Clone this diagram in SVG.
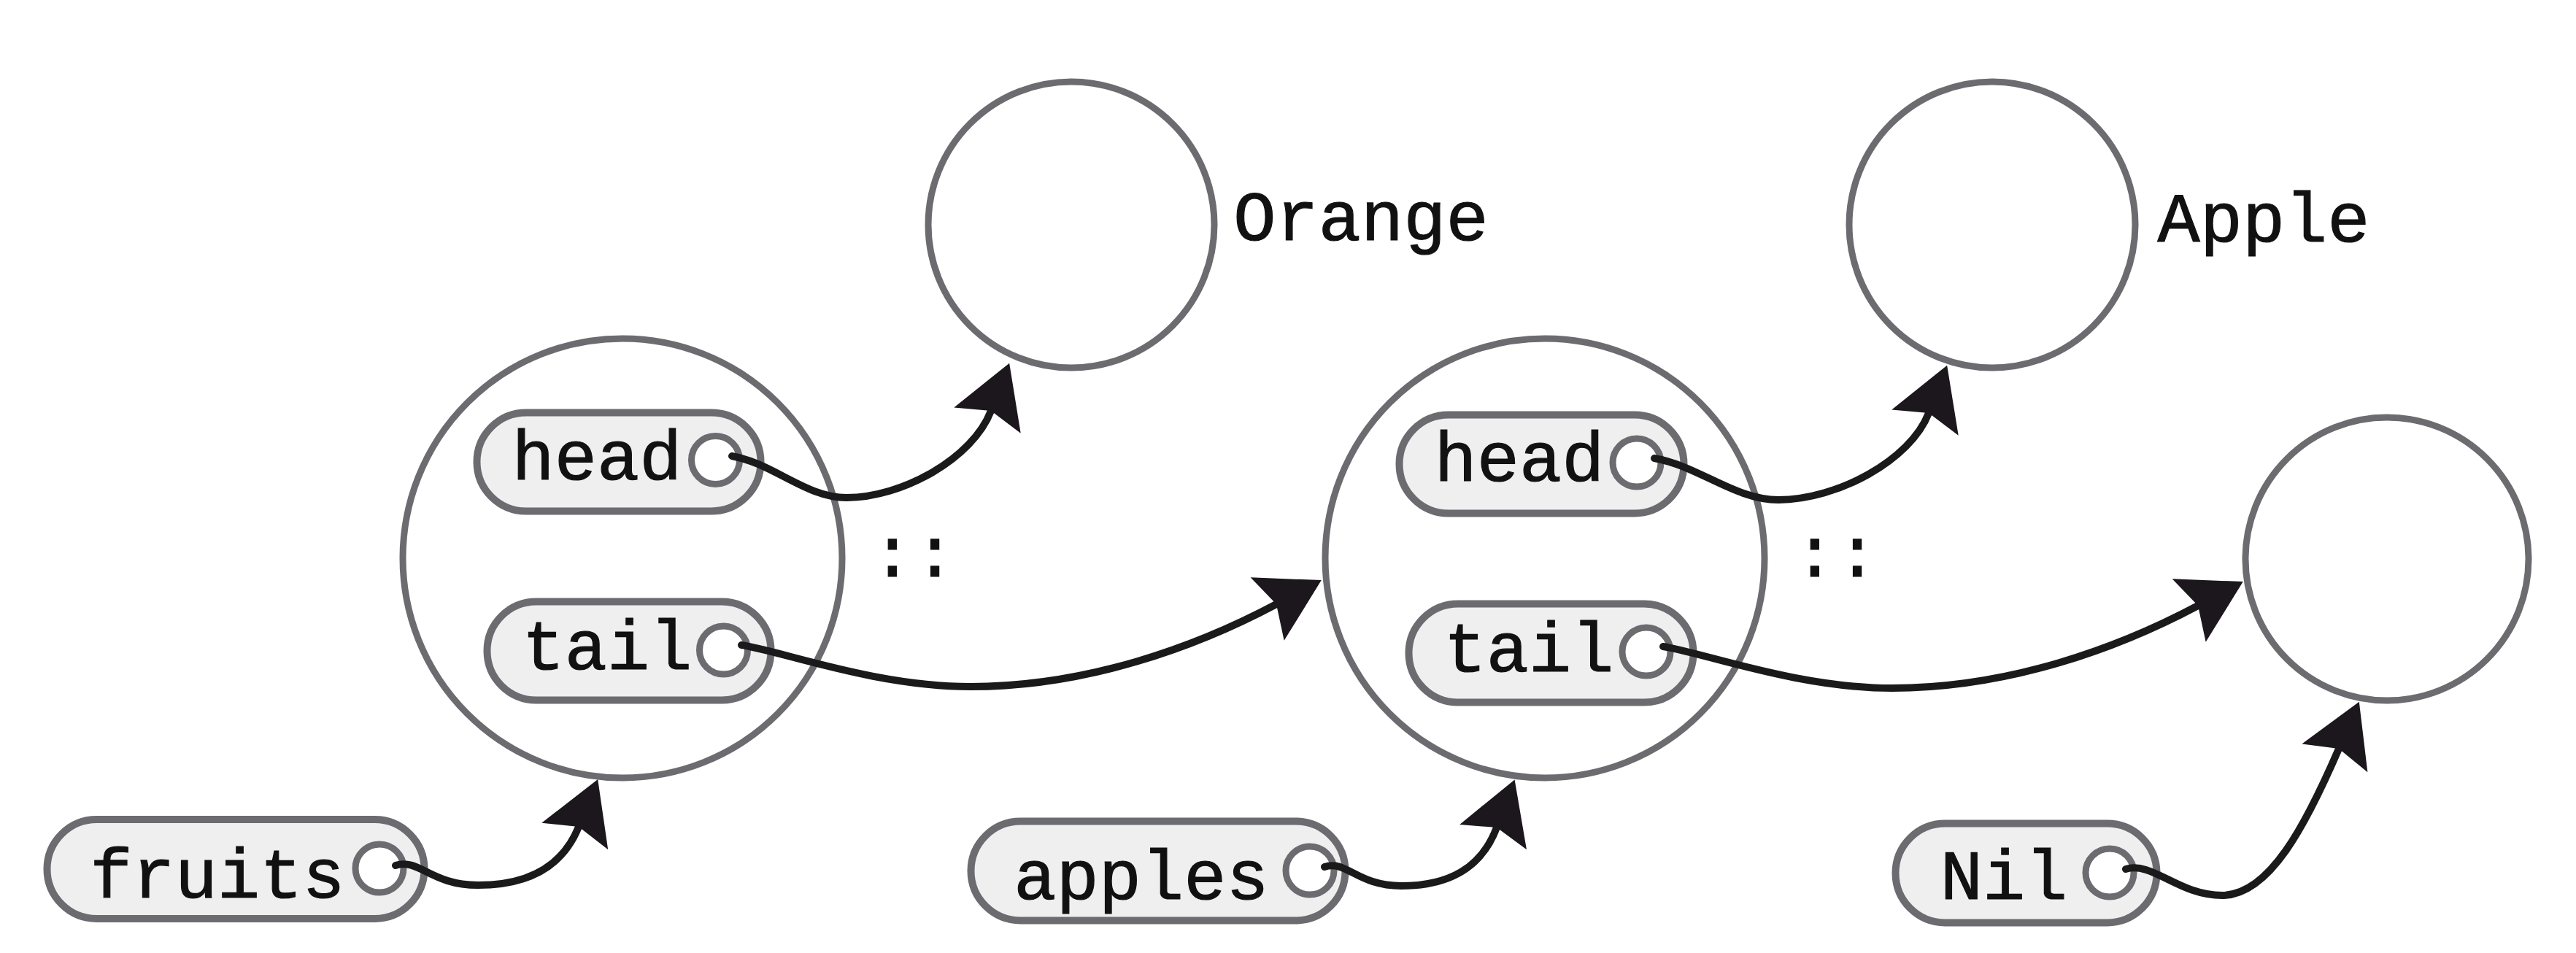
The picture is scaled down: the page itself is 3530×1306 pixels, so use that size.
<svg xmlns="http://www.w3.org/2000/svg" width="3530" height="1306" viewBox="0 0 3530 1306">
  <defs>
    <style>
      .big { fill: #ffffff; stroke: #6b6b70; stroke-width: 9; }
      .val { fill: #ffffff; stroke: #6b6b70; stroke-width: 9; }
      .pill { fill: #efefef; stroke: #6b6b70; stroke-width: 10; }
      .port { fill: #ffffff; stroke: #6b6b70; stroke-width: 9; }
      .lbl { font-family: "Liberation Mono", "DejaVu Sans Mono", monospace; font-size: 97px; fill: #111111; stroke: #111111; stroke-width: 1.2; }
      .mid { text-anchor: middle; }
      .conn { fill: none; stroke: #1a1a1a; stroke-width: 10; stroke-linecap: round; marker-end: url(#arr); }
    </style>
    <marker id="arr" markerUnits="userSpaceOnUse" viewBox="-20 -60 100 120" markerWidth="100" markerHeight="120" refX="0" refY="0" orient="auto" overflow="visible">
      <path d="M70,0 L-14,-49 L0,0 L-14,49 Z" fill="#1c171d"/>
    </marker>
  </defs>
  <rect width="3530" height="1306" fill="#ffffff"/>

  <g id="orange">
    <circle class="val" cx="1468" cy="308" r="196"/>
    <text class="lbl mid" x="1865" y="329">Orange</text>
  </g>
  <g id="apple">
    <circle class="val" cx="2730" cy="308" r="196"/>
    <text class="lbl mid" x="3102" y="331">Apple</text>
  </g>
  <g id="nilnode">
    <circle class="val" cx="3271" cy="766" r="194"/>
  </g>

  <g id="cons1">
    <circle class="big" cx="853" cy="765" r="301"/>
    <g id="cons1-head">
      <rect class="pill" x="653.5" y="565.5" width="389" height="135" rx="67.5"/>
      <text class="lbl mid" x="818" y="657">head</text>
      <circle class="port" cx="980.5" cy="630.5" r="33"/>
    </g>
    <g id="cons1-tail">
      <rect class="pill" x="667.5" y="824.5" width="389" height="135" rx="67.5"/>
      <text class="lbl mid" x="832" y="917">tail</text>
      <circle class="port" cx="991.5" cy="891" r="33"/>
    </g>
  </g>
  <g id="cons-op1">
    <text class="lbl mid" x="1252" y="790">::</text>
  </g>

  <g id="cons2">
    <circle class="big" cx="2117" cy="765" r="301"/>
    <g id="cons2-head">
      <rect class="pill" x="1917.5" y="568.5" width="390" height="135" rx="67.5"/>
      <text class="lbl mid" x="2082" y="659">head</text>
      <circle class="port" cx="2243" cy="634" r="33"/>
    </g>
    <g id="cons2-tail">
      <rect class="pill" x="1930.5" y="827.5" width="390" height="135" rx="67.5"/>
      <text class="lbl mid" x="2095" y="920">tail</text>
      <circle class="port" cx="2256" cy="893" r="33"/>
    </g>
  </g>
  <g id="cons-op2">
    <text class="lbl mid" x="2516" y="790">::</text>
  </g>

  <g id="fruits">
    <rect class="pill" x="64.5" y="1123" width="517" height="136" rx="68"/>
    <text class="lbl mid" x="298" y="1230">fruits</text>
    <circle class="port" cx="520" cy="1190" r="33"/>
  </g>
  <g id="apples">
    <rect class="pill" x="1330.5" y="1125.5" width="513" height="136" rx="68"/>
    <text class="lbl mid" x="1564" y="1232">apples</text>
    <circle class="port" cx="1795" cy="1193" r="33"/>
  </g>
  <g id="nil">
    <rect class="pill" x="2597.5" y="1128.5" width="358" height="136" rx="68"/>
    <text class="lbl mid" x="2746" y="1232">Nil</text>
    <circle class="port" cx="2891" cy="1196" r="33"/>
  </g>

  <g id="connectors">
    <path class="conn" d="M1003,625 C1060,635 1104,682 1160,682 C1237,682 1333,628 1358,563"/>
    <path class="conn" d="M2267,628 C2327,638 2377,685 2437,685 C2517,685 2618,631 2643,566"/>
    <path class="conn" d="M1016,884 C1070,892 1200,941 1330,941 C1490,941 1640,886 1749,828"/>
    <path class="conn" d="M2279,886 C2333,894 2463,943 2593,943 C2753,943 2903,888 3012,830"/>
    <path class="conn" d="M542,1186 C575,1176 590,1213 655,1213 C720,1213 770,1190 793,1133"/>
    <path class="conn" d="M1815,1188 C1845,1178 1860,1214 1920,1214 C1985,1214 2030,1190 2051,1134"/>
    <path class="conn" d="M2913,1191 C2950,1180 2985,1227 3045,1227 C3110,1227 3160,1130 3205,1026"/>
  </g>
</svg>
